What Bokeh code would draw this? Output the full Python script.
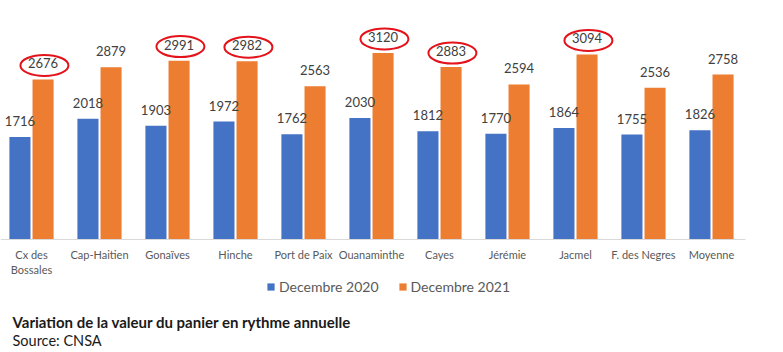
from bokeh.plotting import figure
from bokeh.models import (ColumnDataSource, Range1d, FixedTicker, Legend, LegendItem,
                          Label)
from bokeh.transform import dodge
from bokeh.core.properties import value
from bokeh.embed import file_html
from bokeh.resources import INLINE

# ---- data ----
categories = ["Cx des\nBossales", "Cap-Haitien", "Gonaïves", "Hinche", "Port de Paix",
              "Ouanaminthe", "Cayes", "Jérémie", "Jacmel", "F. des Negres", "Moyenne"]
dec_2020 = [1716, 2018, 1903, 1972, 1762, 2030, 1812, 1770, 1864, 1755, 1826]
dec_2021 = [2676, 2879, 2991, 2982, 2563, 3120, 2883, 2594, 3094, 2536, 2758]
circled = [True, False, True, True, False, True, True, False, True, False, False]
series_names = ["Decembre 2020", "Decembre 2021"]
caption_title = "Variation de la valeur du panier en rythme annuelle"
caption_source = "Source: CNSA"

BLUE = "#4472C4"
ORANGE = "#ED7D31"
FONT = "Lato"

xs = list(range(len(categories)))
src = ColumnDataSource(dict(
    x=xs,
    y20=dec_2020,
    y21=dec_2021,
    t20=[str(v) for v in dec_2020],
    t21=[str(v) for v in dec_2021],
))
circ_src = ColumnDataSource(dict(
    x=[x for x, c in zip(xs, circled) if c],
    y21=[v for v, c in zip(dec_2021, circled) if c],
))

p = figure(width=783, height=352, output_backend="svg", toolbar_location=None,
           x_range=Range1d(-0.456, 11.059), y_range=Range1d(-1890, 3997),
           min_border_left=0, min_border_right=0, min_border_top=0,
           min_border_bottom=0)
p.outline_line_color = None
p.xgrid.visible = False
p.ygrid.visible = False
p.yaxis.visible = False
p.background_fill_color = "white"
p.border_fill_color = "white"

r20 = p.vbar(x=dodge("x", -0.17, range=p.x_range), top="y20", bottom=0, width=0.31,
             source=src, fill_color=BLUE, line_color=None)
r21 = p.vbar(x=dodge("x", 0.17, range=p.x_range), top="y21", bottom=0, width=0.31,
             source=src, fill_color=ORANGE, line_color=None)

p.text(x=dodge("x", -0.17, range=p.x_range), y="y20", text="t20", source=src,
       text_align="center", text_baseline="alphabetic", y_offset=-16,
       text_font=value(FONT), text_font_size="13px", text_color="#404040")
p.text(x=dodge("x", 0.17, range=p.x_range), y="y21", text="t21", source=src,
       text_align="center", text_baseline="alphabetic", y_offset=-16,
       text_font=value(FONT), text_font_size="13px", text_color="#404040")

p.ellipse(x=dodge("x", 0.19, range=p.x_range), y=dodge("y21", 235, range=p.y_range),
          width=48, height=21, width_units="screen", height_units="screen",
          source=circ_src, fill_color=None, line_color="#E3121B", line_width=2)

ax = p.xaxis[0]
ax.fixed_location = 0
ax.ticker = FixedTicker(ticks=xs)
ax.major_label_overrides = {i: c for i, c in zip(xs, categories)}
ax.major_tick_line_color = None
ax.minor_tick_line_color = None
ax.axis_line_color = "#D9D9D9"
ax.axis_line_width = 1
ax.bounds = (-0.5, 10.5)
ax.major_label_standoff = 3
ax.major_label_text_font = FONT
ax.major_label_text_font_size = "11px"
ax.major_label_text_line_height = 1.1
ax.major_label_text_color = "#595959"

legend = Legend(items=[LegendItem(label=series_names[0], renderers=[r20]),
                       LegendItem(label=series_names[1], renderers=[r21])],
                orientation="horizontal", location=(266, 57),
                padding=0, margin=0, spacing=19, label_standoff=4,
                glyph_width=9, glyph_height=9,
                label_text_font=FONT, label_text_font_size="14px",
                label_text_color="#595959",
                border_line_color=None, background_fill_alpha=0)
p.add_layout(legend, "center")

p.add_layout(Label(x=12, y=31, x_units="screen", y_units="screen", text=caption_title,
                   text_font=FONT, text_font_size="15px", text_font_style="bold",
                   text_color="#1a1a1a", text_baseline="alphabetic"))
p.add_layout(Label(x=12, y=12.5, x_units="screen", y_units="screen", text=caption_source,
                   text_font=FONT, text_font_size="14.5px",
                   text_color="#1a1a1a", text_baseline="alphabetic"))

open("out.html", "w").write(file_html(p, INLINE))
